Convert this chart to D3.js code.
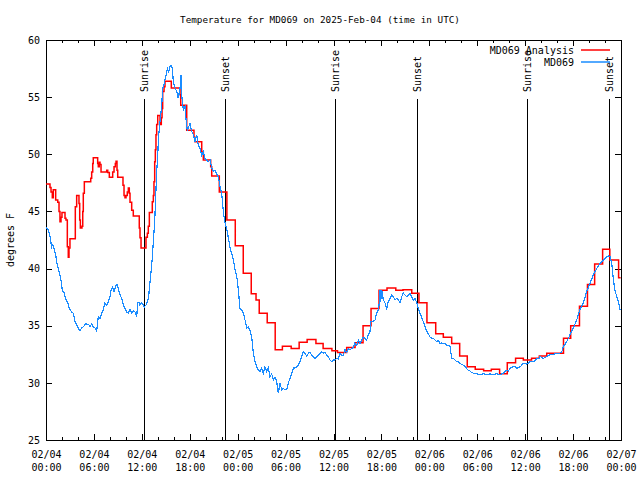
<!DOCTYPE html>
<html>
<head>
<meta charset="utf-8">
<script src="https://cdn.jsdelivr.net/npm/d3@7"></script>
<style>
  html, body { margin: 0; padding: 0; background: #fff; }
  svg { display: block; }
  text { font-family: "DejaVu Sans Mono", "Liberation Mono", monospace; font-size: 10px; fill: #000; }
</style>
</head>
<body>
<svg id="chart" width="640" height="480"></svg>
<script>
// ---------------- data ----------------
const chartTitle = "Temperature for MD069 on 2025-Feb-04 (time in UTC)";
const yAxisLabel = "degrees F";
const seriesNames = ["MD069 Analysis", "MD069"];
const seriesColors = ["#ff0000", "#1a8cff"];

const yTicks = [25, 30, 35, 40, 45, 50, 55, 60];
const xMajorHours = [0, 6, 12, 18, 24, 30, 36, 42, 48, 54, 60, 66, 72];
const xDateLabels = ["02/04","02/04","02/04","02/04","02/05","02/05","02/05","02/05","02/06","02/06","02/06","02/06","02/07"];
const xTimeLabels = ["00:00","06:00","12:00","18:00","00:00","06:00","12:00","18:00","00:00","06:00","12:00","18:00","00:00"];

const eventLabels = ["Sunrise", "Sunset", "Sunrise", "Sunset", "Sunrise", "Sunset"];
const eventHours  = [12.27, 22.45, 36.19, 46.5, 60.23, 70.54];

// MD069 Analysis: [hours since 02/04 00:00 UTC, degF] (stepped)
const analysisSeries = [
[0,47.4],[0.5,47.1],[0.63,46.7],[0.79,46.2],[0.91,46.9],[1.21,46.0],[1.47,45.8],[1.63,45.0],[1.75,44.1],[1.88,44.5],
[2.0,44.9],[2.38,44.4],[2.5,44.25],[2.67,41.9],[2.79,41.0],[2.88,41.8],[3.0,42.6],[3.67,45.4],[3.84,46.4],[4.13,45.7],
[4.22,44.25],[4.3,43.55],[4.5,43.7],[4.6,45.0],[4.67,46.6],[4.8,47.6],[5.6,47.9],[5.72,48.45],[5.85,49.2],[5.92,49.7],
[6.47,49.2],[6.55,48.9],[6.67,49.3],[6.76,49.1],[6.89,48.45],[7.6,48.6],[7.73,48.4],[7.93,48.0],[8.35,48.45],[8.52,48.9],
[8.68,49.2],[8.77,49.4],[8.89,48.6],[8.98,48.0],[9.64,47.3],[9.77,46.4],[9.89,46.2],[10.02,46.4],[10.18,46.7],[10.31,47.05],
[10.43,46.6],[10.52,45.8],[10.73,45.1],[10.93,44.6],[11.68,43.55],[11.77,42.7],[11.9,41.8],[12.52,42.75],[12.69,43.1],[12.81,43.7],
[12.94,44.9],[13.31,45.85],[13.44,46.4],[13.52,47.6],[13.61,49.35],[13.69,50.4],[13.77,51.7],[13.86,52.6],[13.99,53.4],[14.28,52.6],
[14.44,53.2],[14.53,54.0],[14.61,55.5],[14.78,55.9],[14.9,56.4],[15.69,55.8],[16.78,55.2],[16.87,54.3],[17.62,52.1],[18.53,51.5],
[18.66,51.1],[19.5,50.2],[19.7,49.5],[20.62,48.9],[20.75,48.1],[21.7,46.7],[22.65,44.25],[23.7,42.0],[24.7,39.6],[25.7,37.8],
[26.3,37.25],[26.7,36.1],[27.7,35.25],[28.7,32.9],[29.6,33.2],[30.7,33.0],[31.7,33.55],[32.7,33.8],[33.8,33.45],[34.7,33.0],
[35.8,32.8],[36.5,32.65],[37.65,33.1],[38.7,33.5],[39.7,35.0],[40.7,36.5],[41.7,38.1],[42.7,38.3],[43.8,38.1],[44.7,38.15],
[45.8,37.85],[46.7,37.0],[47.7,35.25],[48.8,34.3],[49.75,34.0],[50.8,33.45],[51.8,32.35],[52.75,31.4],[53.75,31.2],[54.8,31.05],
[55.76,31.2],[56.8,30.8],[57.76,31.75],[58.8,32.15],[59.77,32.0],[60.8,32.15],[61.77,32.35],[62.7,32.6],[63.7,32.6],[64.8,33.9],
[65.7,35.0],[66.8,36.7],[67.8,38.6],[68.7,40.4],[69.7,41.7],[70.6,40.75],[71.7,39.2],[71.95,39.2]
];

// MD069 station observations: [hours, degF]
const stationSeries = [
[0,43.6],[0.29,43.4],[0.5,42.8],[0.71,41.9],[0.84,42.1],[1.0,41.8],[1.21,41.2],[1.42,40.3],[1.67,39.6],[1.88,39.0],
[2.04,38.1],[2.25,37.9],[2.5,37.3],[2.72,37.0],[2.92,36.5],[3.22,36.2],[3.42,36.1],[3.63,35.35],[3.84,35.1],[4.04,34.8],
[4.26,34.55],[4.47,34.8],[4.67,34.9],[4.88,35.1],[5.01,35.2],[5.17,35.1],[5.35,35.1],[5.51,34.9],[5.72,35.15],[5.92,34.9],
[6.14,34.8],[6.35,34.55],[6.55,35.8],[6.76,35.65],[6.97,36.1],[7.18,36.4],[7.39,37.0],[7.6,36.8],[7.8,37.1],[8.01,37.5],
[8.14,38.1],[8.35,38.4],[8.52,38.0],[8.77,38.5],[8.93,38.6],[9.1,38.1],[9.27,37.7],[9.48,37.4],[9.68,36.8],[9.89,36.5],
[10.1,36.2],[10.31,36.1],[10.52,36.4],[10.73,36.1],[10.93,36.3],[11.14,36.2],[11.36,35.8],[11.48,37.0],[11.65,37.0],[11.77,36.8],
[11.98,37.0],[12.18,36.8],[12.31,36.65],[12.52,36.8],[12.69,37.1],[12.86,37.5],[12.94,38.3],[13.11,39.4],[13.27,40.6],[13.44,42.35],
[13.61,44.1],[13.74,46.4],[13.86,48.5],[13.99,49.9],[14.06,51.1],[14.19,52.3],[14.36,53.4],[14.49,54.3],[14.61,55.8],[14.78,56.1],
[14.9,56.5],[15.03,56.9],[15.19,57.5],[15.36,57.2],[15.53,57.7],[15.74,57.8],[15.86,57.2],[15.94,56.35],[16.15,55.8],[16.36,55.5],
[16.57,54.9],[16.78,55.8],[16.91,56.9],[16.99,55.2],[17.19,53.9],[17.41,54.2],[17.53,53.1],[17.69,52.1],[17.87,52.4],[18.03,52.7],
[18.25,52.0],[18.45,51.7],[18.66,51.1],[18.87,51.7],[19.07,50.8],[19.28,50.5],[19.5,49.9],[19.7,50.2],[19.91,49.6],[20.12,49.5],
[20.32,49.35],[20.54,49.5],[20.75,48.8],[20.95,48.5],[21.16,48.6],[21.37,48.3],[21.58,48.0],[21.79,47.2],[22.0,46.6],[22.2,45.0],
[22.41,44.0],[22.63,43.5],[22.83,42.7],[23.04,41.85],[23.25,41.3],[23.45,40.8],[23.67,39.9],[23.88,39.35],[24.08,38.2],[24.29,36.5],
[24.51,36.4],[24.71,36.1],[24.92,35.5],[25.13,34.8],[25.33,34.9],[25.54,34.6],[25.76,34.0],[25.96,32.6],[26.17,31.85],[26.38,31.4],
[26.58,31.1],[26.8,31.0],[27.01,31.3],[27.21,30.8],[27.42,31.4],[27.64,31.0],[27.84,31.3],[28.05,30.5],[28.26,30.8],[28.46,30.25],
[28.68,30.5],[28.89,30.1],[29.09,29.1],[29.3,30.0],[29.51,29.4],[29.72,29.5],[29.93,29.4],[30.14,29.4],[30.34,30.0],[30.55,30.4],
[30.77,30.8],[30.97,31.3],[31.18,31.3],[31.39,31.4],[31.59,31.55],[31.81,31.85],[32.02,32.3],[32.22,32.7],[32.43,32.6],[32.65,32.3],
[32.85,32.6],[33.06,32.7],[33.27,32.4],[33.47,32.3],[33.68,32.15],[33.9,32.3],[34.1,32.4],[34.31,32.6],[34.52,32.7],[34.72,32.6],
[34.94,32.7],[35.15,32.4],[35.35,32.3],[35.56,32.0],[35.78,31.85],[35.98,32.0],[36.19,32.0],[36.4,32.15],[36.6,32.1],[36.82,32.6],
[37.03,32.4],[37.23,32.4],[37.44,32.9],[37.65,32.65],[37.86,33.0],[38.07,32.9],[38.28,33.0],[38.48,33.15],[38.69,33.5],[38.91,33.3],
[39.11,33.75],[39.32,33.45],[39.53,33.75],[39.73,34.0],[39.95,33.9],[40.16,33.75],[40.36,34.2],[40.57,34.5],[40.66,35.35],[40.91,35.35],
[41.2,35.5],[41.41,36.1],[41.61,36.4],[41.74,37.0],[41.82,38.1],[41.91,37.1],[42.04,38.1],[42.24,37.25],[42.45,37.0],[42.66,36.5],
[42.86,37.1],[43.08,37.4],[43.29,37.7],[43.49,37.55],[43.7,37.25],[43.92,37.4],[44.12,37.25],[44.33,37.0],[44.54,37.55],[44.74,37.85],
[44.95,37.7],[45.17,37.55],[45.37,37.7],[45.58,37.85],[45.79,37.55],[46.0,37.25],[46.21,37.4],[46.42,37.0],[46.62,36.5],[46.83,36.1],
[47.05,35.7],[47.25,35.35],[47.46,34.9],[47.68,34.5],[47.88,34.3],[48.09,34.0],[48.3,33.9],[48.5,33.9],[48.71,33.75],[48.92,33.6],
[49.13,33.7],[49.34,33.45],[49.55,33.5],[49.75,33.45],[49.96,33.45],[50.18,33.3],[50.38,33.3],[50.59,33.15],[50.8,32.15],[51.0,32.15],
[51.21,32.0],[51.43,31.85],[51.63,31.85],[51.84,31.7],[52.06,31.6],[52.26,31.55],[52.47,31.45],[52.68,31.25],[52.89,31.1],[53.09,31.05],
[53.31,30.9],[53.51,30.85],[53.93,30.8],[54.35,30.7],[54.76,30.8],[55.19,30.7],[55.6,30.8],[56.01,30.7],[56.43,30.8],[56.85,30.7],
[57.26,30.85],[57.47,31.0],[57.69,31.1],[57.89,31.05],[58.1,31.25],[58.31,31.35],[58.52,31.4],[58.73,31.45],[58.94,31.25],[59.15,31.35],
[59.36,31.4],[59.57,31.55],[59.77,31.7],[60.2,31.65],[60.61,31.85],[61.03,31.85],[61.45,32.1],[61.78,32.15],[61.87,32.3],[62.28,32.15],
[62.7,32.3],[63.11,32.45],[63.53,32.5],[63.95,32.6],[64.36,32.6],[64.57,32.7],[64.78,33.15],[65.2,33.6],[65.61,34.2],[66.03,34.8],
[66.45,35.5],[66.87,36.4],[67.28,37.0],[67.71,38.0],[68.12,38.7],[68.53,39.45],[68.96,40.0],[69.37,40.45],[69.79,40.75],[70.21,41.05],
[70.41,41.1],[70.63,41.05],[70.84,40.45],[71.05,39.0],[71.25,38.1],[71.46,37.55],[71.67,37.1],[71.88,36.4]
];

// ---------------- layout ----------------
const plot = { left: 46, right: 621, top: 40, bottom: 440 };

const svg = d3.select("#chart");
const x = d3.scaleLinear().domain([0, 72]).range([plot.left, plot.right]);
const y = d3.scaleLinear().domain([25, 60]).range([plot.bottom, plot.top]);

// title
svg.append("text")
  .attr("x", 320).attr("y", 23)
  .attr("text-anchor", "middle")
  .style("font-size", "9.3px")
  .text(chartTitle);

// y label
svg.append("text")
  .attr("transform", `translate(14,${(plot.top + plot.bottom) / 2}) rotate(-90)`)
  .attr("text-anchor", "middle")
  .text(yAxisLabel);

const minorHours = d3.range(0, 73, 2).filter(h => h % 6 !== 0);

function styleAxis(g) {
  g.select(".domain").remove();
  g.selectAll(".tick line").attr("stroke", "#000").attr("shape-rendering", "crispEdges");
  g.selectAll("text").attr("font-family", null).attr("font-size", null);
}

// bottom minor ticks
svg.append("g").attr("transform", `translate(0,${plot.bottom})`)
  .call(d3.axisBottom(x).tickValues(minorHours).tickSize(-3).tickFormat(""))
  .call(styleAxis);
// top minor ticks
svg.append("g").attr("transform", `translate(0,${plot.top})`)
  .call(d3.axisTop(x).tickValues(minorHours).tickSize(-3).tickFormat(""))
  .call(styleAxis);
// top major ticks
svg.append("g").attr("transform", `translate(0,${plot.top})`)
  .call(d3.axisTop(x).tickValues(xMajorHours).tickSize(-6).tickFormat(""))
  .call(styleAxis);
// bottom major ticks with two-line labels
const xAx = svg.append("g").attr("transform", `translate(0,${plot.bottom})`)
  .call(d3.axisBottom(x).tickValues(xMajorHours).tickSize(-6).tickPadding(0).tickFormat(""))
  .call(styleAxis);
xAx.selectAll(".tick").each(function(d, i) {
  const t = d3.select(this).select("text");
  t.attr("y", 0).attr("dy", null).attr("text-anchor", "middle");
  t.append("tspan").attr("x", 0).attr("y", 18).text(xDateLabels[i]);
  t.append("tspan").attr("x", 0).attr("y", 31).text(xTimeLabels[i]);
});

// left y axis
svg.append("g").attr("transform", `translate(${plot.left},0)`)
  .call(d3.axisLeft(y).tickValues(yTicks).tickSize(-6).tickPadding(6).tickFormat(d3.format("d")))
  .call(styleAxis);
// right y ticks
svg.append("g").attr("transform", `translate(${plot.right},0)`)
  .call(d3.axisRight(y).tickValues(yTicks).tickSize(-6).tickFormat(""))
  .call(styleAxis);

// frame
svg.append("rect")
  .attr("x", plot.left + 0.5).attr("y", plot.top + 0.5)
  .attr("width", plot.right - plot.left).attr("height", plot.bottom - plot.top)
  .attr("fill", "none").attr("stroke", "#000").attr("stroke-width", 1)
  .attr("shape-rendering", "crispEdges");

// sunrise/sunset markers
const ev = svg.append("g");
eventHours.forEach((h, i) => {
  const xp = Math.round(x(h)) + 0.5;
  ev.append("line")
    .attr("x1", xp).attr("x2", xp)
    .attr("y1", 99).attr("y2", plot.bottom)
    .attr("stroke", "#000").attr("stroke-width", 1)
    .attr("shape-rendering", "crispEdges");
  ev.append("text")
    .attr("transform", `translate(${xp},92) rotate(-90)`)
    .attr("text-anchor", "start")
    .attr("dy", "0.35em")
    .text(eventLabels[i]);
});

// series
const lineStep = d3.line().x(d => x(d[0])).y(d => y(d[1])).curve(d3.curveStepAfter);
const lineLin = d3.line().x(d => x(d[0])).y(d => y(d[1]));

svg.append("path").datum(analysisSeries)
  .attr("d", lineStep)
  .attr("fill", "none").attr("stroke", seriesColors[0]).attr("stroke-width", 1.5)
  .attr("stroke-linejoin", "miter");

svg.append("path").datum(stationSeries)
  .attr("d", lineLin)
  .attr("fill", "none").attr("stroke", seriesColors[1]).attr("stroke-width", 1.2)
  .attr("shape-rendering", "crispEdges");

// legend
const legY = [50, 62];
seriesNames.forEach((name, i) => {
  svg.append("text")
    .attr("x", 574).attr("y", legY[i])
    .attr("dy", "0.35em")
    .attr("text-anchor", "end")
    .text(name);
  svg.append("line")
    .attr("x1", 581).attr("x2", 610)
    .attr("y1", legY[i]).attr("y2", legY[i])
    .attr("stroke", seriesColors[i]).attr("stroke-width", 1.5);
});
</script>
</body>
</html>
